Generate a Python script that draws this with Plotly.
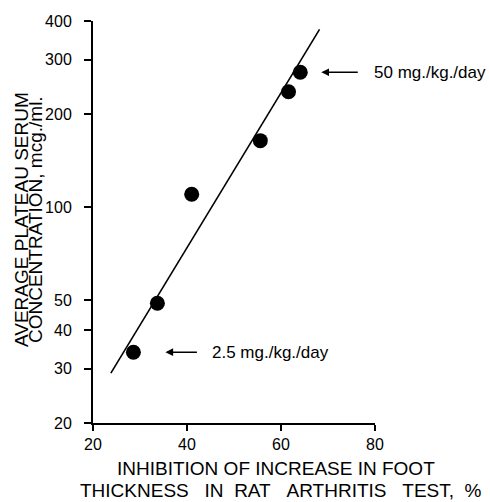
import plotly.graph_objects as go
import math

# ---- data ----
inhibition = [28.6, 33.7, 41.0, 55.6, 61.6, 64.1]          # % inhibition
concentration = [33.9, 48.8, 110, 164, 236, 273]          # mcg./ml.
fit_x = [23.8, 68.2]
fit_y = [29.0, 376]
x_ticks = [20, 40, 60, 80]
y_ticks = [20, 30, 40, 50, 100, 200, 300, 400]
dose_labels = ["50 mg./kg./day", "2.5 mg./kg./day"]

W, H = 490, 502
ML, MR, MT, MB = 93, 115, 21, 79
PW, PH = W - ML - MR, H - MT - MB

def px(xp):
    return (xp - ML) / PW

def py(yp):
    return 1 - (yp - MT) / PH

SANS = "Liberation Sans, Arial, Helvetica, sans-serif"

fig = go.Figure()
fig.add_trace(go.Scatter(x=fit_x, y=fit_y, mode="lines",
                         line=dict(color="black", width=1.6), hoverinfo="skip"))
fig.add_trace(go.Scatter(x=inhibition, y=concentration, mode="markers",
                         marker=dict(color="black", size=15)))

annotations = []
# arrows + dose labels
for (idx, label, head_shift, tail_len, text_shift) in [
        (5, dose_labels[0], 21, 38, 72),
        (0, dose_labels[1], 32, 33, 77)]:
    annotations.append(dict(x=inhibition[idx], y=math.log10(concentration[idx]),
                            xref="x", yref="y", text="", showarrow=True,
                            ax=tail_len, ay=0, xshift=head_shift,
                            arrowhead=2, arrowsize=1.1, arrowwidth=1.4,
                            arrowcolor="black"))
    annotations.append(dict(x=inhibition[idx], y=math.log10(concentration[idx]),
                            xref="x", yref="y", text=label, showarrow=False,
                            xanchor="left", yanchor="middle", xshift=text_shift,
                            font=dict(family=SANS, size=17, color="black")))

# y title (two lines)
annotations.append(dict(x=px(21), y=py(220), xref="paper", yref="paper",
                        text="AVERAGE PLATEAU SERUM", textangle=-90, showarrow=False,
                        xanchor="center", yanchor="middle",
                        font=dict(family=SANS, size=19, color="black")))
annotations.append(dict(x=px(35), y=py(220), xref="paper", yref="paper",
                        text="CONCENTRATION, mcg./ml.", textangle=-90, showarrow=False,
                        xanchor="center", yanchor="middle",
                        font=dict(family=SANS, size=19, color="black")))
# x title (two lines)
annotations.append(dict(x=px(276), y=py(468), xref="paper", yref="paper",
                        text="INHIBITION OF INCREASE IN FOOT", showarrow=False,
                        xanchor="center", yanchor="middle",
                        font=dict(family=SANS, size=19, color="black")))
nb = "\u00a0"
line2 = ("THICKNESS" + nb * 3 + "IN" + nb * 2 + "RAT" + nb * 3 + "ARTHRITIS"
         + nb * 3 + "TEST," + nb * 2 + "%")
annotations.append(dict(x=px(281), y=py(490), xref="paper", yref="paper",
                        text=line2,
                        showarrow=False, xanchor="center", yanchor="middle",
                        font=dict(family=SANS, size=19, color="black")))

fig.update_layout(
    width=W, height=H,
    margin=dict(l=ML, r=MR, t=MT, b=MB),
    paper_bgcolor="white", plot_bgcolor="white",
    showlegend=False,
    annotations=annotations,
    xaxis=dict(range=[20, 80], tickvals=x_ticks, ticktext=[str(v) for v in x_ticks],
               showgrid=False, zeroline=False, showline=True, linecolor="black",
               linewidth=1.6, ticks="outside", ticklen=6, tickwidth=1.5,
               tickcolor="black",
               tickfont=dict(family=SANS, size=16, color="black")),
    yaxis=dict(type="log", range=[math.log10(20), math.log10(400)],
               tickvals=y_ticks, ticktext=[str(v) for v in y_ticks],
               showgrid=False, zeroline=False, showline=True, linecolor="black",
               linewidth=2, ticks="outside", ticklen=7, tickwidth=1.5,
               tickcolor="black", ticklabelstandoff=9,
               tickfont=dict(family=SANS, size=16, color="black")),
)

fig.write_html("out.html")
